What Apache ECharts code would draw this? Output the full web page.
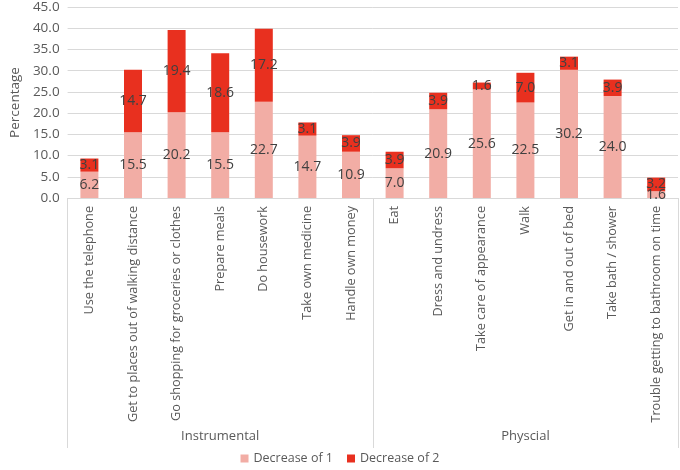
<!DOCTYPE html>
<html>
<head>
<meta charset="utf-8">
<script src="https://cdn.jsdelivr.net/npm/echarts@6/dist/echarts.min.js"></script>
<style>
  html, body { margin: 0; padding: 0; background: #fff; }
  #chart { width: 680px; height: 470px; }
</style>
</head>
<body>
<div id="chart"></div>
<script>
// categories, two groups of 7
var categories = [
    'Use the telephone', 'Get to places out of walking distance', 'Go shopping for groceries or clothes',
    'Prepare meals', 'Do housework', 'Take own medicine', 'Handle own money',
    'Eat', 'Dress and undress', 'Take care of appearance', 'Walk', 'Get in and out of bed',
    'Take bath / shower', 'Trouble getting to bathroom on time'
];
var groups = ['Instrumental', 'Physcial'];
var seriesNames = ['Decrease of 1', 'Decrease of 2'];
var decrease1 = [6.2, 15.5, 20.2, 15.5, 22.7, 14.7, 10.9, 7.0, 20.9, 25.6, 22.5, 30.2, 24.0, 1.6];
var decrease2 = [3.1, 14.7, 19.4, 18.6, 17.2, 3.1, 3.9, 3.9, 3.9, 1.6, 7.0, 3.1, 3.9, 3.2];

var textColor = '#595959';
var lineColor = '#d9d9d9';

var myChart = echarts.init(document.getElementById('chart'));

function barSeries(name, data, color) {
    return {
        name: name,
        type: 'bar',
        stack: 'total',
        barWidth: 18,
        xAxisIndex: 0,
        itemStyle: { color: color },
        label: {
            show: true,
            position: 'inside',
            color: '#404040',
            fontSize: 14,
            fontFamily: 'Open Sans',
            formatter: function (p) { return p.value.toFixed(1); }
        },
        data: data
    };
}

myChart.setOption({
    animation: false,
    textStyle: { fontFamily: 'Open Sans' },
    grid: { left: 56, right: 2, top: 5, bottom: 272 },
    legend: {
        bottom: 0,
        left: 'center',
        itemWidth: 8,
        itemHeight: 8,
        icon: 'rect',
        itemGap: 14,
        textStyle: { color: textColor, fontSize: 12.5 },
        data: seriesNames
    },
    xAxis: [
        {
            type: 'category',
            data: categories,
            axisLine: { show: true, lineStyle: { color: lineColor } },
            axisTick: { show: false },
            axisLabel: {
                interval: 0,
                rotate: 90,
                color: textColor,
                fontSize: 12.7,
                margin: 8
            }
        },
        {
            type: 'category',
            data: groups,
            position: 'bottom',
            axisLine: { show: false },
            axisTick: {
                show: true,
                length: 250,
                lineStyle: { color: lineColor }
            },
            axisLabel: {
                color: textColor,
                fontSize: 13,
                margin: 232
            }
        }
    ],
    yAxis: {
        type: 'value',
        min: 0,
        max: 45,
        interval: 5,
        name: 'Percentage',
        nameLocation: 'middle',
        nameGap: 40,
        nameTextStyle: { color: textColor, fontSize: 13.5 },
        axisLine: { show: false },
        axisTick: { show: false },
        axisLabel: {
            color: textColor,
            fontSize: 13.5,
            formatter: function (v) { return v.toFixed(1); }
        },
        splitLine: { lineStyle: { color: lineColor } }
    },
    series: [
        barSeries(seriesNames[0], decrease1, '#f2ada5'),
        barSeries(seriesNames[1], decrease2, '#e8301f')
    ]
});
</script>
</body>
</html>
